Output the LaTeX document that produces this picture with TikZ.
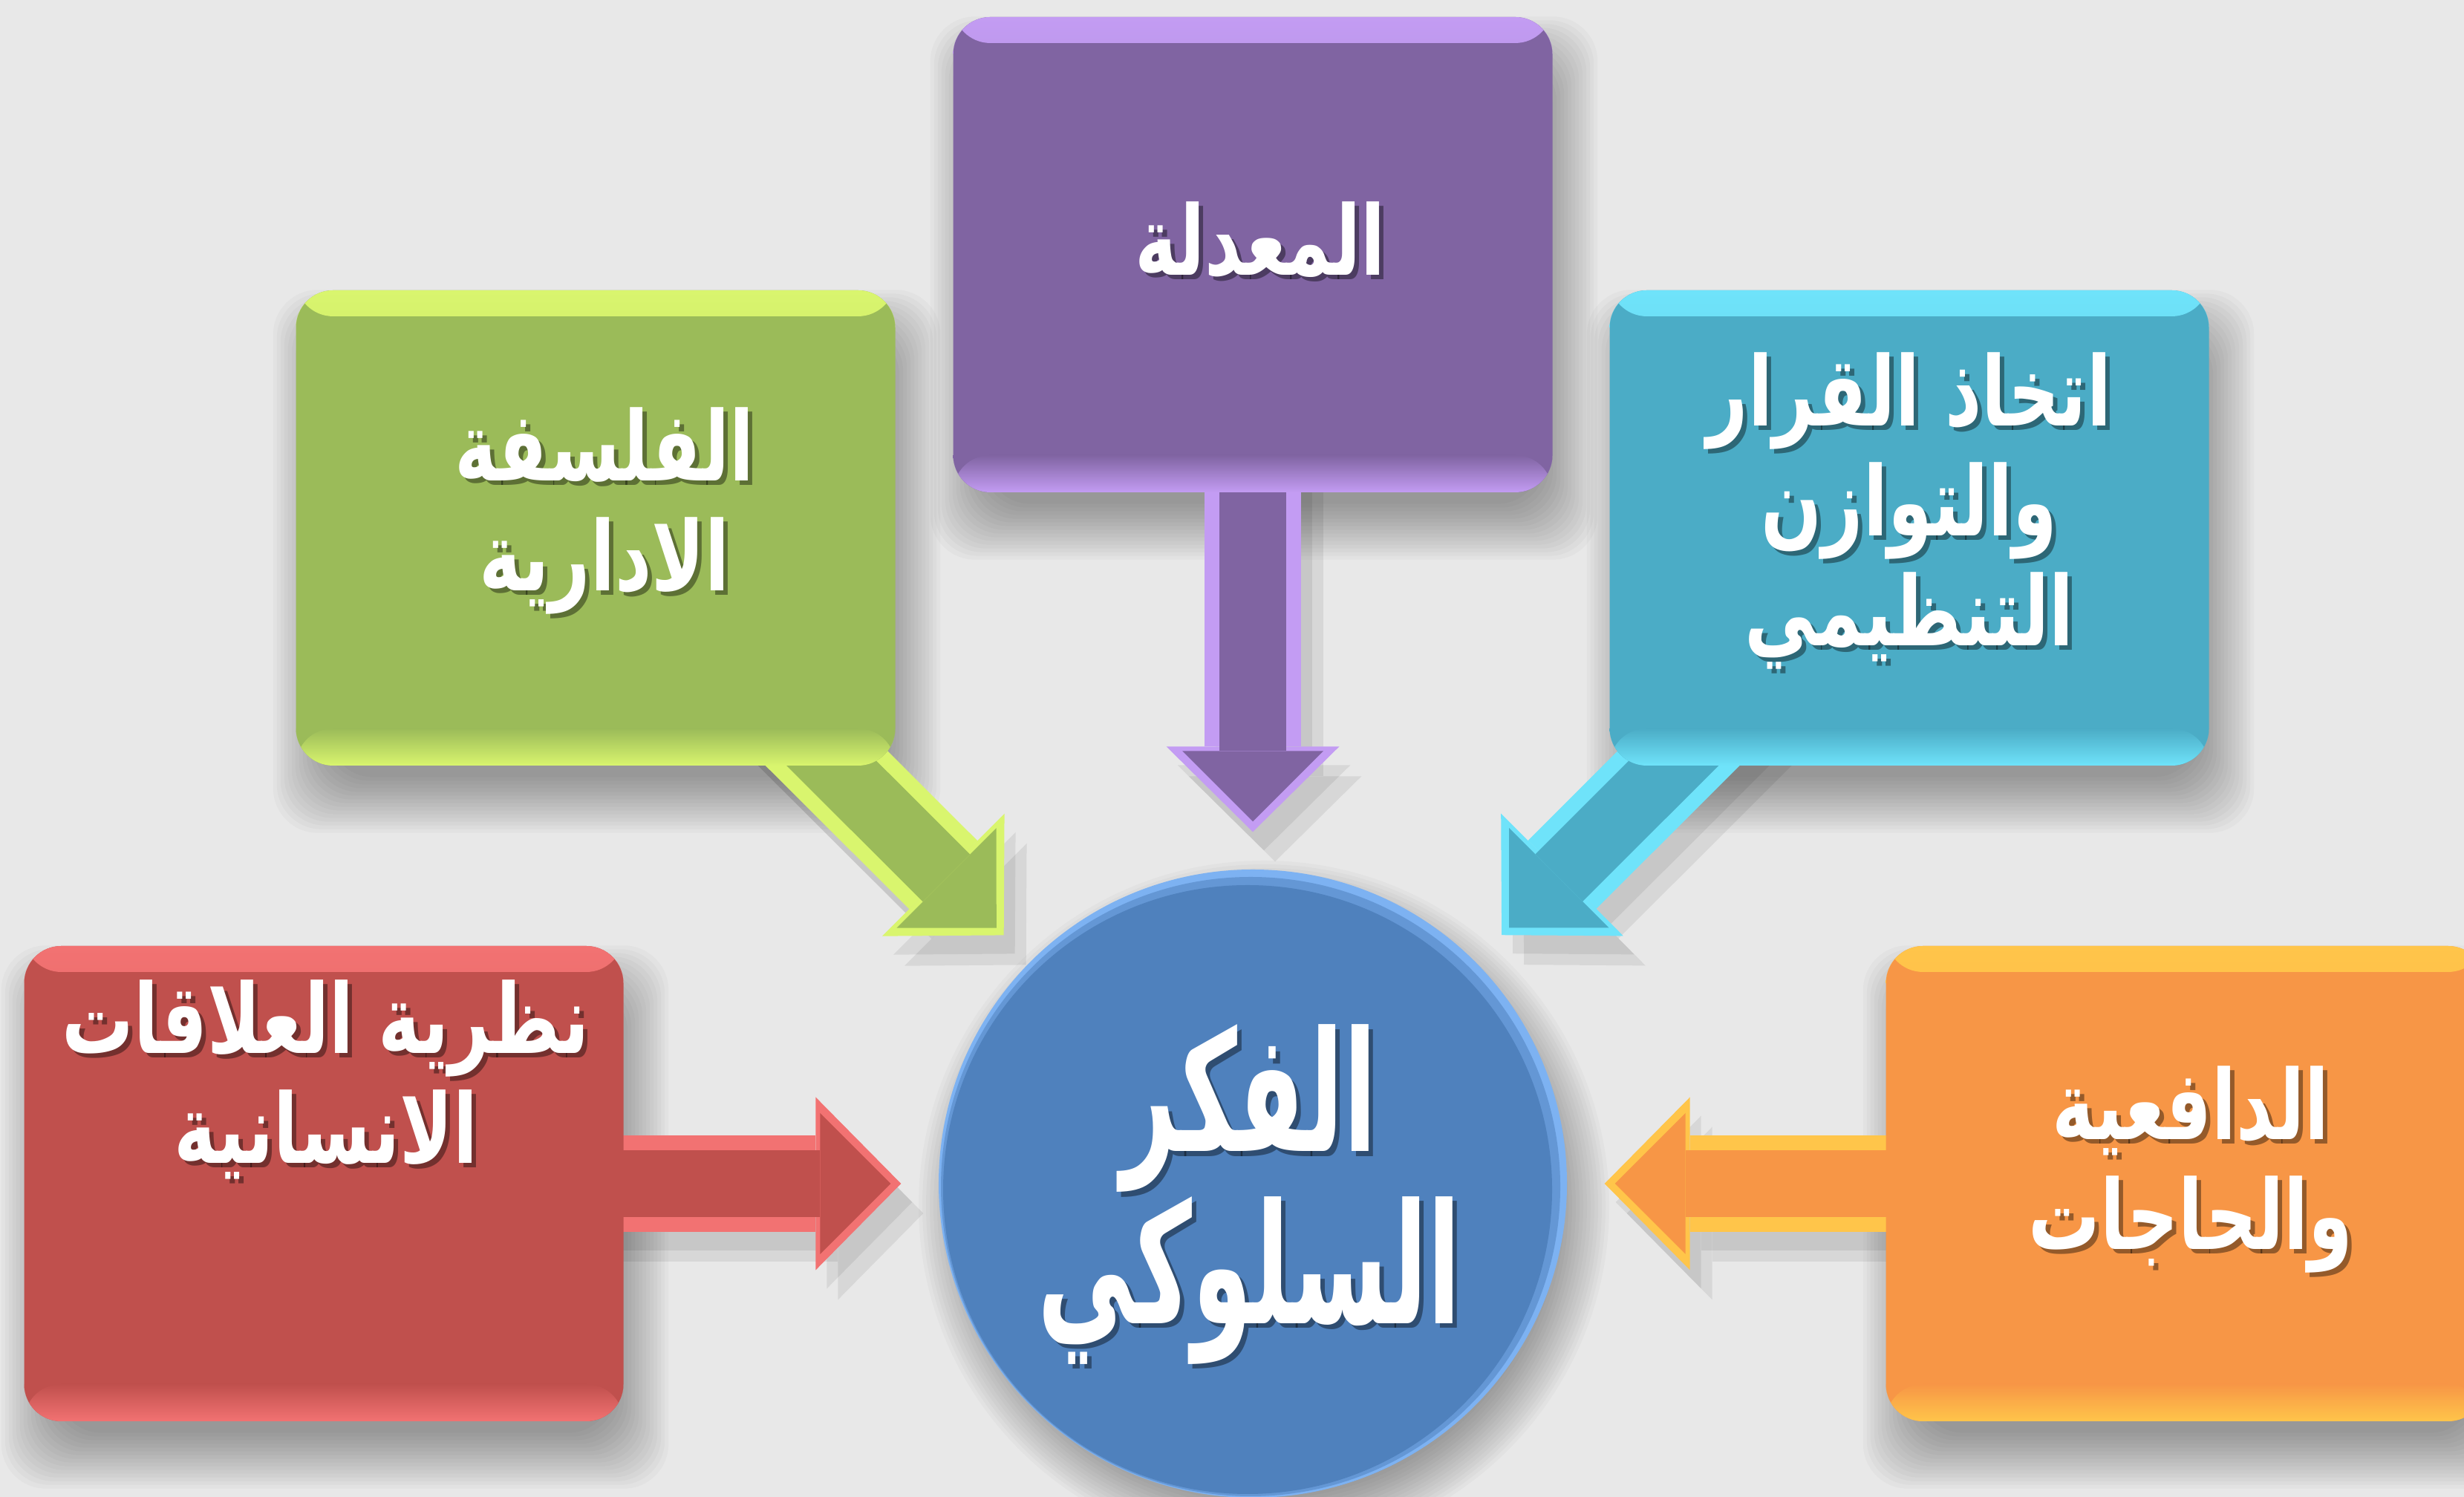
\documentclass[tikz,border=0pt]{standalone}
\usepackage{fontspec}
\newfontfamily\arabicfont[Script=Arabic]{DejaVu Sans}
\TeXXeTstate=1
\usetikzlibrary{arrows.meta,calc}

\definecolor{bggray}{HTML}{E8E8E8}
\definecolor{cblue}{HTML}{4F81BD}   \definecolor{lblue}{HTML}{7DB2F2}
\definecolor{cred}{HTML}{C0504D}    \definecolor{lred}{HTML}{F27272}
\definecolor{cgreen}{HTML}{9BBB59}  \definecolor{lgreen}{HTML}{D9F56E}
\definecolor{cpurple}{HTML}{8064A2} \definecolor{lpurple}{HTML}{C39CF3}
\definecolor{caqua}{HTML}{4BACC6}   \definecolor{laqua}{HTML}{6FE3FA}
\definecolor{corange}{HTML}{F79646} \definecolor{lorange}{HTML}{FFC54A}

\pgfdeclarelayer{shade}
\pgfdeclarelayer{arrows}
\pgfsetlayers{shade,arrows,main}

% one right-to-left line
\newcommand{\ar}[1]{\beginR#1\endR}
% white label over a dark copy: #1 name, #2 style, #3 node, #4 shift, #5 lines
\newcommand{\setlabel}[5]{%
  \node[#2, text=black, text opacity=.4] at ([shift={#4}, xshift=0.06cm, yshift=-0.06cm]#3.center) {#5};
  \node[#2] (#1) at ([shift={#4}]#3.center) {#5};}

\tikzset{
  box/.style 2 args={rectangle, rounded corners=0.5cm, minimum width=8.07cm, minimum height=6.4cm, fill=#1,
    path picture={
      \shade[top color=#2, bottom color=#1] (path picture bounding box.north west)
        rectangle ([yshift=-0.35cm]path picture bounding box.north east);
      \shade[top color=#1, bottom color=#2] ([yshift=0.5cm]path picture bounding box.south west)
        rectangle (path picture bounding box.south east);}},
  hub/.style={circle, minimum size=8.46cm, fill=lblue,
    path picture={
      \fill[cblue!55!lblue] ([shift={(-0.03,-0.04)}]path picture bounding box.center) circle (4.17cm);
      \fill[cblue] ([shift={(-0.07,-0.08)}]path picture bounding box.center) circle (4.1cm);}},
  lbl/.style={text=white, align=center, xscale=0.74, transform shape,
    font=\arabicfont\bfseries\fontsize{37}{42}\selectfont},
  biglbl/.style={text=white, align=center, xscale=0.58, transform shape,
    font=\arabicfont\bfseries\fontsize{64}{66}\selectfont},
  flow/.style={draw=#1, line width=1.3cm, shorten >=0.5cm,
    -{Triangle[length=1.15cm, width=2.33cm, line width=0pt]}},
  flowin/.style={draw=#1, line width=0.9cm, shorten >=0.64cm,
    -{Triangle[length=0.95cm, width=1.9cm, line width=0pt]}},
}

\begin{document}
\begin{tikzpicture}
\useasboundingbox (0,0) rectangle (33.18,20.16);

\node[hub] (core) at (16.87,4.22) {};
\node[box={cpurple}{lpurple}] (mod) at (16.87,16.73) {};
\node[box={cgreen}{lgreen}] (phil) at (8.02,13.05) {};
\node[box={caqua}{laqua}] (dec) at (25.71,13.05) {};
\node[box={cred}{lred}] (hum) at (4.36,4.22) {};
\node[box={corange}{lorange}] (mot) at (29.43,4.22) {};

\setlabel{core-t}{biglbl}{core}{(-0.05,-0.15)}{\ar{الفكر}\\\ar{السلوكي}}
\setlabel{mod-t}{lbl}{mod}{(0.1,0.2)}{\ar{المعدلة}}
\setlabel{phil-t}{lbl}{phil}{(0.12,0.23)}{\ar{الفلسفة}\\\ar{الادارية}}
\setlabel{dec-t}{lbl}{dec}{(0,0.23)}{\ar{اتخاذ القرار}\\\ar{والتوازن}\\\ar{التنظيمي}}
\setlabel{hum-t}{lbl}{hum}{(0.03,1.4)}{\ar{نظرية العلاقات}\\\ar{الانسانية}}
\setlabel{mot-t}{lbl}{mot}{(0.07,0.19)}{\ar{الدافعية}\\\ar{والحاجات}}

% block arrows run from each box centre to the hub, under the boxes
\begin{pgfonlayer}{arrows}
  \foreach \n/\c in {mod/purple, phil/green, dec/aqua, hum/red, mot/orange} {
    \draw[flow=l\c] (\n.center) -- (core);
    \draw[flowin=c\c] (\n.center) -- (core);
  }
\end{pgfonlayer}

% background and soft shadows
\begin{pgfonlayer}{shade}
  \fill[bggray] (0,0) rectangle (33.18,20.16);
  \foreach \n in {mod,phil,dec,hum,mot}
    \foreach \s in {0,0.05,...,0.8}
      \fill[black, fill opacity=.024, rounded corners=0.6cm]
        ($(\n.north west)+(0.45-\s,-0.75+\s)$) rectangle ($(\n.south east)+(-0.15+\s,-0.15-\s)$);
  \foreach \s in {0,0.05,...,0.8}
    \fill[black, fill opacity=.024] ($(core.center)+(0.15,-0.3)$) circle (3.9cm+\s cm);
  \foreach \n in {mod,phil,dec,hum,mot}
    \foreach \d in {0.15,0.3}
      \draw[flow=black, opacity=.07, transform canvas={shift={(\d,-\d-0.1)}}] (\n.center) -- (core);
\end{pgfonlayer}
\end{tikzpicture}
\end{document}
